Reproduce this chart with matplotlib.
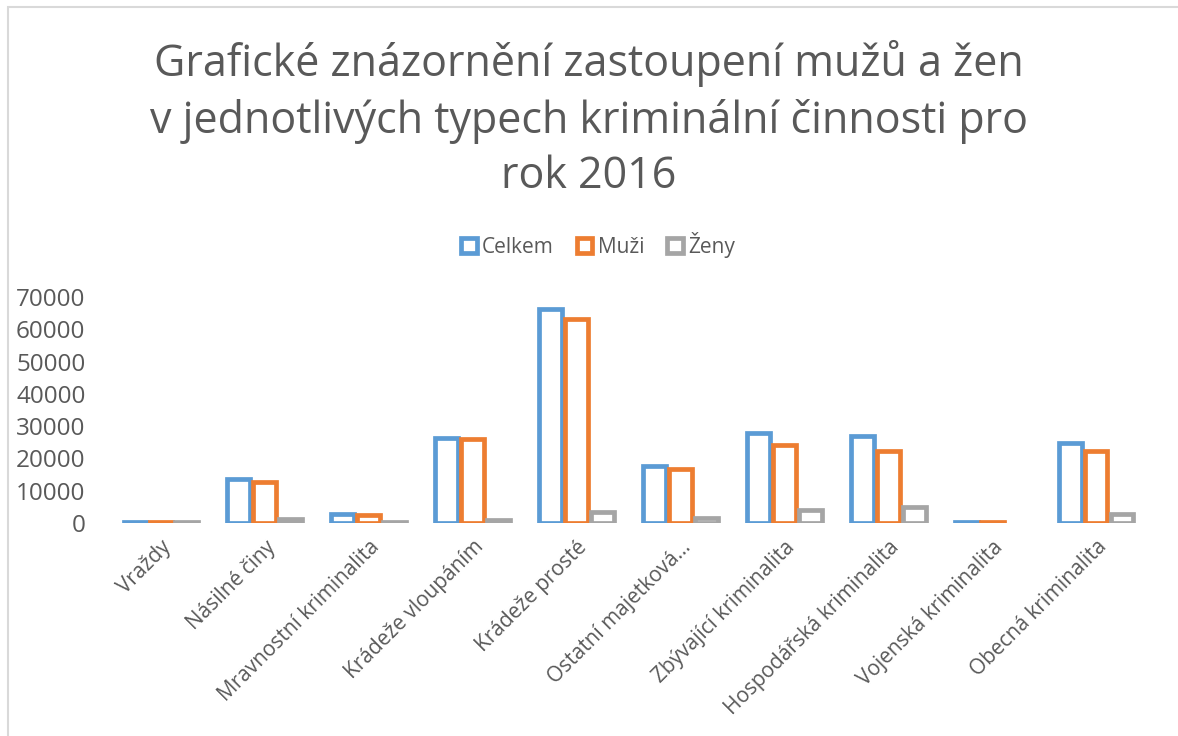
import numpy as np
import matplotlib.pyplot as plt
from matplotlib.patches import Rectangle

categories = ['Vraždy', 'Násilné činy', 'Mravnostní kriminalita', 'Krádeže vloupáním',
              'Krádeže prosté', 'Ostatní majetková...', 'Zbývající kriminalita',
              'Hospodářská kriminalita', 'Vojenská kriminalita', 'Obecná kriminalita']
celkem = [350, 13600, 2600, 26400, 66300, 17700, 27800, 26900, 300, 24800]
muzi = [320, 12500, 2400, 25900, 63300, 16700, 24000, 22300, 300, 22400]
zeny = [300, 1300, 300, 900, 3300, 1450, 3900, 4900, 0, 2700]
series = ['Celkem', 'Muži', 'Ženy']
colors = ['#5b9bd5', '#ed7d31', '#a5a5a5']
title_lines = ['Grafické znázornění zastoupení mužů a žen',
               'v jednotlivých typech kriminální činnosti pro',
               'rok 2016']

plt.rcParams['font.family'] = ['Open Sans', 'DejaVu Sans']
text_color = '#595959'

fig = plt.figure(figsize=(11.78, 7.36), dpi=100)
ax = fig.add_axes([109 / 1178, 1 - 522.7 / 736, 1039 / 1178, 225.4 / 736])

x = np.arange(len(categories))
w = 0.22
for i, (vals, c, name) in enumerate(zip([celkem, muzi, zeny], colors, series)):
    v = np.array(vals, dtype=float)
    mask = v > 0
    ax.bar(x[mask] + (i - 1) * 0.25, v[mask], width=w, facecolor='white',
           edgecolor=c, linewidth=3.4, label=name)

ax.set_xlim(-0.5, len(categories) - 0.5)
ax.set_ylim(0, 70000)
ax.set_yticks(np.arange(0, 70001, 10000))
ax.set_xticks(x)
ax.set_xticklabels(categories, rotation=45, ha='right', rotation_mode='anchor',
                   fontsize=15, color=text_color)
for s in ax.spines.values():
    s.set_visible(False)
ax.tick_params(axis='both', length=0, labelsize=17.5, colors=text_color)
ax.tick_params(axis='x', pad=10, labelsize=15)
ax.tick_params(axis='y', pad=17)

for k, (line, yb) in enumerate(zip(title_lines, [76, 133, 188])):
    fig.text(0.5, 1 - yb / 736, line, ha='center', va='baseline',
             fontsize=31, color=text_color)

ax.legend(loc='center', bbox_to_anchor=(598 / 1178, 1 - 245 / 736),
          bbox_transform=fig.transFigure, ncol=3, frameon=False, fontsize=15,
          labelcolor=text_color, handlelength=0.75, handleheight=0.75,
          handletextpad=0.25, columnspacing=1.1)

fig.patches.append(Rectangle((8 / 1178, -0.1), 1.2, 1 - 7 / 736 + 0.1,
                             transform=fig.transFigure, fill=False,
                             edgecolor='#d9d9d9', linewidth=1.5, clip_on=False))

fig.savefig('out.png', dpi=100)
